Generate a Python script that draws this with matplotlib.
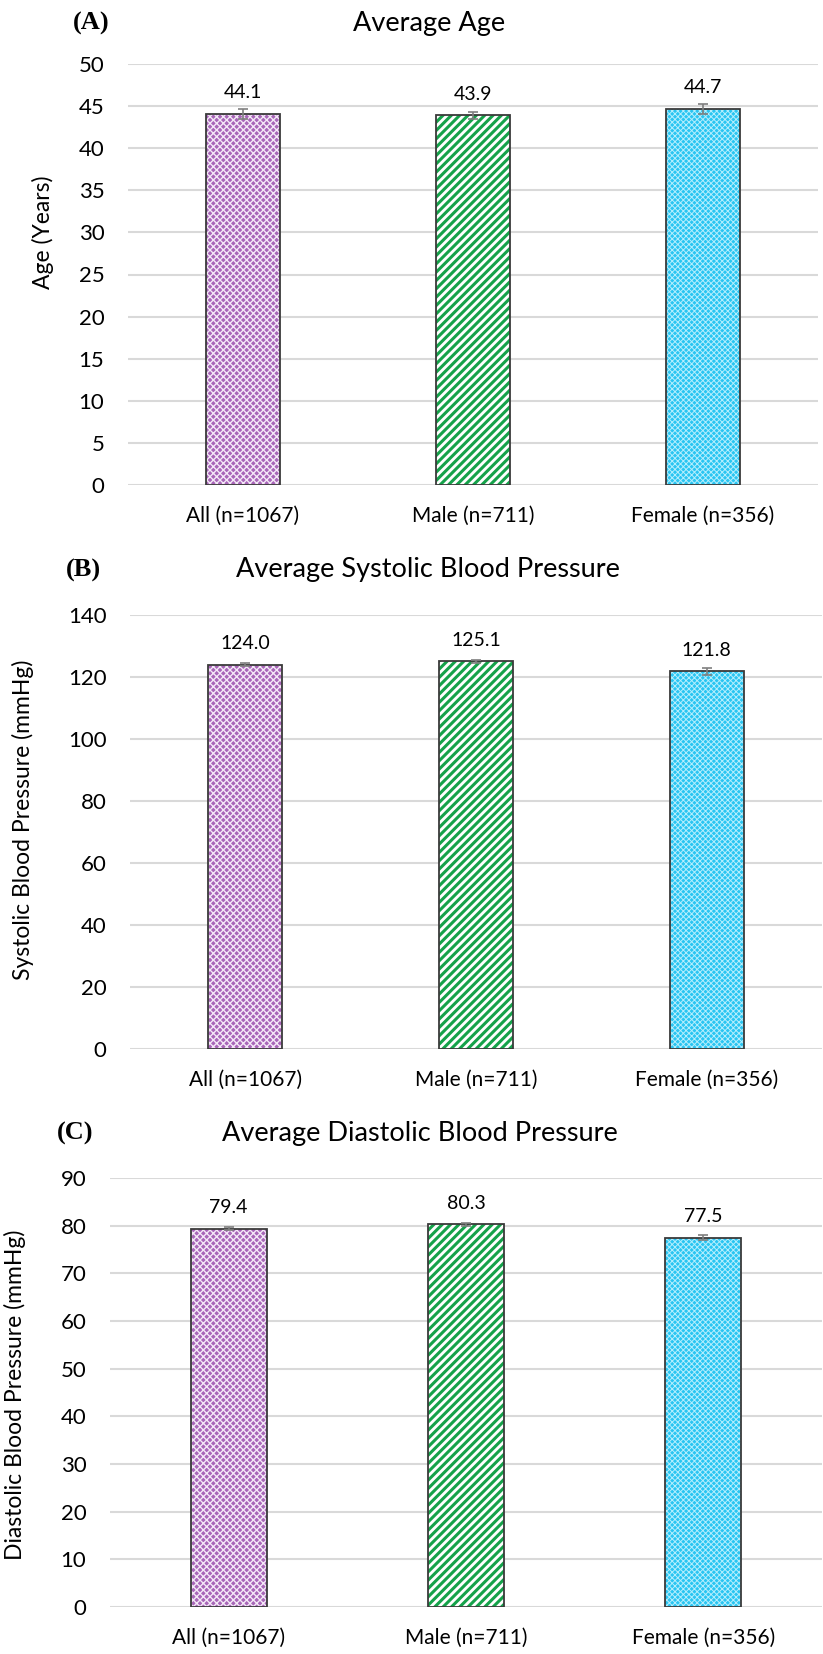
import matplotlib
matplotlib.use("Agg")
import matplotlib.pyplot as plt

# data
groups = ["All (n=1067)", "Male (n=711)", "Female (n=356)"]

age = [44.1, 43.9, 44.7]
age_err = [0.6, 0.4, 0.6]

sbp = [124.0, 125.1, 121.8]
sbp_err = [0.5, 0.5, 1.0]

dbp = [79.4, 80.3, 77.5]
dbp_err = [0.3, 0.3, 0.6]

# (face, hatch colour, hatch, hatch linewidth) per group
styles = [
    ("#A866B8", "#F4E8F7", "xxxxx", 1.0),
    ("white", "#15A24A", "////", 2.2),
    ("#29C5F2", "#B5EEFD", "xxxxxx", 0.7),
]

plt.rcParams["font.family"] = ["Lato", "DejaVu Sans"]
W, H = 823, 1654
fig = plt.figure(figsize=(W / 100, H / 100), dpi=100)


def px_axes(left, right, top, bottom):
    return fig.add_axes([left / W, 1 - bottom / H, (right - left) / W, (bottom - top) / H])


def panel(ax, vals, errs, ymax, step, ylabel, ylab_xy):
    x = range(len(groups))
    for i, (v, e) in enumerate(zip(vals, errs)):
        face, hcol, hatch, hlw = styles[i]
        plt.rcParams["hatch.linewidth"] = hlw
        b = ax.bar(i, v, width=0.32, color=face, edgecolor=hcol, hatch=hatch,
                   linewidth=0, zorder=2)
        for p in b:
            if hasattr(p, "set_hatch_linewidth"):
                p.set_hatch_linewidth(hlw)
        ax.bar(i, v, width=0.32, fill=False, edgecolor="#3A3A3A", linewidth=1.3, zorder=3)
        ax.errorbar(i, v, yerr=e, fmt="none", ecolor="#7F7F7F", elinewidth=1.2,
                    capsize=3.6, capthick=1.2, zorder=4)
        ax.annotate(f"{v:.1f}", (i, v), xytext=(0, 15), textcoords="offset points",
                    ha="center", va="center", fontsize=14)
    ax.set_xlim(-0.5, len(groups) - 0.5)
    ax.set_ylim(0, ymax)
    ax.set_yticks(range(0, ymax + 1, step))
    ax.set_xticks(list(x))
    ax.set_xticklabels(groups, fontsize=15)
    ax.tick_params(axis="y", length=0, pad=17, labelsize=16)
    ax.tick_params(axis="x", length=0, pad=15)
    ax.yaxis.grid(True, color="#D9D9D9", linewidth=1.5, zorder=0)
    ax.set_axisbelow(True)
    for s in ax.spines.values():
        s.set_visible(False)
    ax.set_ylabel(ylabel, fontsize=16.5)
    ax.yaxis.set_label_coords(*ylab_xy)


axA = px_axes(128, 818, 64, 485)
panel(axA, age, age_err, 50, 5, "Age (Years)", (-0.107, 0.6))
axB = px_axes(130, 822, 615, 1049)
panel(axB, sbp, sbp_err, 140, 20, "Systolic Blood Pressure (mmHg)", (-0.139, 0.528))
axC = px_axes(110, 822, 1178, 1607)
panel(axC, dbp, dbp_err, 90, 10, "Diastolic Blood Pressure (mmHg)", (-0.118, 0.494))

titles = [("Average Age", 429, 23, "(A)", 91),
          ("Average Systolic Blood Pressure", 428, 570, "(B)", 83),
          ("Average Diastolic Blood Pressure", 420, 1133, "(C)", 75)]
for t, tx, ty, tag, gx in titles:
    fig.text(tx / W, 1 - ty / H, t, ha="center", va="center", fontsize=19.5)
    fig.text(gx / W, 1 - ty / H, tag, ha="center", va="center", fontsize=19,
             fontweight="bold", family="Liberation Serif")

fig.savefig("out.png", dpi=100)
